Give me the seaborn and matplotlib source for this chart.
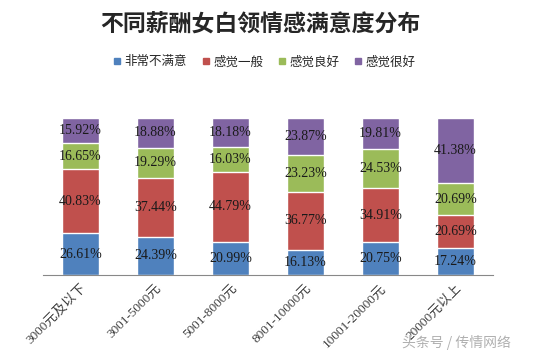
import numpy as np
import pandas as pd
import seaborn as sns
import matplotlib.pyplot as plt
from matplotlib.lines import Line2D

# 数据
categories = ["3000元及以下", "3001-5000元", "5001-8000元", "8001-10000元", "10001-20000元", "20000元以上"]
series_names = ["非常不满意", "感觉一般", "感觉良好", "感觉很好"]
very_unsatisfied = [26.61, 24.39, 20.99, 16.13, 20.75, 17.24]
so_so = [40.83, 37.44, 44.79, 36.77, 34.91, 20.69]
good = [16.65, 19.29, 16.03, 23.23, 24.53, 20.69]
very_good = [15.92, 18.88, 18.18, 23.87, 19.81, 41.38]

colors = ["#4F81BD", "#C0504D", "#9BBB59", "#8064A2"]

sns.set_style("white")
plt.rcParams['font.family'] = ['Liberation Serif', 'Noto Sans CJK SC', 'DejaVu Sans']

series = [very_unsatisfied, so_so, good, very_good]
shares = [np.array(s) / 100.0 for s in series]
cum = np.cumsum(shares, axis=0)

fig = plt.figure(figsize=(5.38, 3.53), dpi=100)
ax = fig.add_axes([0.0799, 0.221, 0.8365, 0.4447])

# 叠加画法：从最上层累计值开始画
for i in range(3, -1, -1):
    df = pd.DataFrame({"cat": categories, "val": cum[i]})
    sns.barplot(data=df, x="cat", y="val", color=colors[i], saturation=1,
                width=0.5, ax=ax, order=categories)

# 数据标签
for i in range(4):
    for j in range(len(categories)):
        ypos = cum[i][j] - shares[i][j] / 2
        ax.text(j, ypos, f"{series[i][j]:.2f}%", ha="center", va="center",
                fontsize=10, color="#1a1a1a", family=['Liberation Serif', 'DejaVu Sans'])

ax.set_ylim(0, 1)
ax.set_xlim(-0.5, len(categories) - 0.5)
ax.set_xlabel("")
ax.set_ylabel("")
ax.set_yticks([])
for s in ["top", "right", "left"]:
    ax.spines[s].set_visible(False)
ax.spines["bottom"].set_color("#888888")
ax.tick_params(axis="x", length=0, pad=5)
ax.set_xticks(range(len(categories)))
ax.set_xticklabels(categories, rotation=45, ha="right", rotation_mode="anchor",
                   fontsize=9.5, color="#404040",
                   family=['Liberation Serif', 'Noto Sans CJK SC'])

fig.text(0.484, 0.93, "不同薪酬女白领情感满意度分布", ha="center", va="center",
         fontsize=16.5, fontweight="bold", family=['Noto Sans CJK SC'])

handles = [Line2D([0], [0], marker="s", linestyle="", markersize=5,
                  markerfacecolor=c, markeredgecolor=c) for c in colors]
fig.legend(handles, series_names, loc="center", bbox_to_anchor=(0.492, 0.825),
           ncol=4, frameon=False, handlelength=0.6, handletextpad=0.3,
           columnspacing=1.2, prop={"family": "Noto Sans CJK SC", "size": 9})

fig.text(0.95, 0.03, "头条号 / 传情网络", ha="right", va="center",
         fontsize=10, color="#b0b0b0", family=['Noto Sans CJK SC'])

plt.savefig("out.png", dpi=100)
